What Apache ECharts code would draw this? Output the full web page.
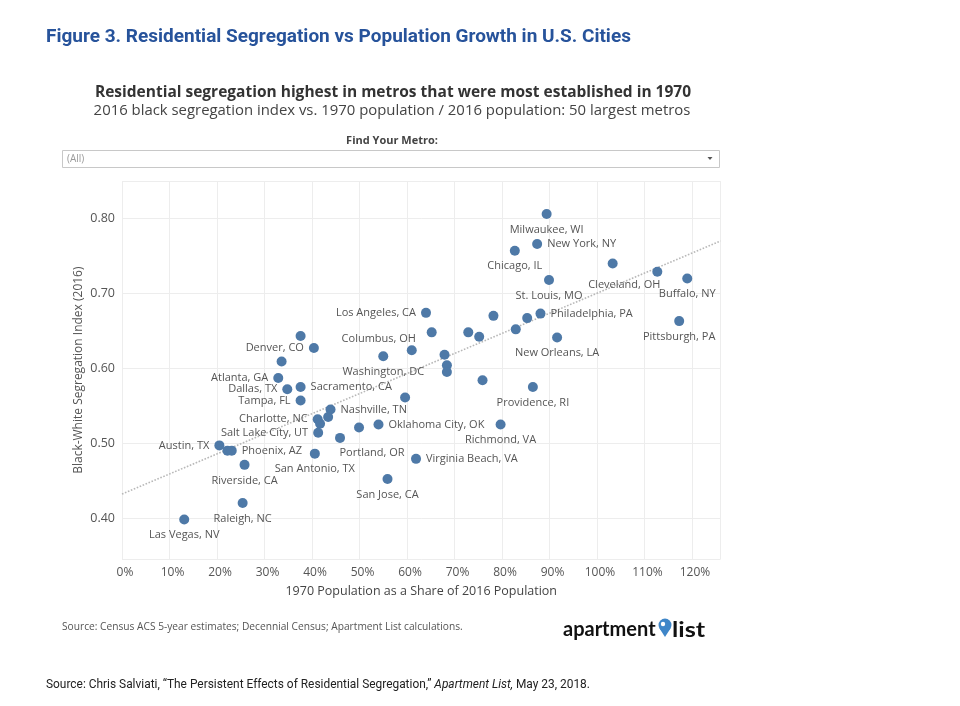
<!DOCTYPE html>
<html>
<head>
<meta charset="utf-8">
<script src="https://cdn.jsdelivr.net/npm/echarts@6/dist/echarts.min.js"></script>
<style>
html,body{margin:0;padding:0;background:#fff;}
#chart{width:960px;height:706px;}
</style>
</head>
<body>
<div id="chart"></div>
<script>
// ---- data ----
const cities = [
  'Milwaukee, WI','New York, NY','Chicago, IL','','Cleveland, OH','Buffalo, NY','St. Louis, MO','Philadelphia, PA','','',
  '','New Orleans, LA','Pittsburgh, PA','','','','','','Los Angeles, CA','',
  'Columbus, OH','Washington, DC','','Providence, RI','','Richmond, VA','Virginia Beach, VA','Oklahoma City, OK','','Denver, CO',
  '','Atlanta, GA','Dallas, TX','Sacramento, CA','Tampa, FL','Nashville, TN','','Charlotte, NC','','Salt Lake City, UT',
  '','Portland, OR','San Antonio, TX','Austin, TX','','Phoenix, AZ','Riverside, CA','Raleigh, NC','Las Vegas, NV','San Jose, CA'
];
const pop1970Share = [
  89.4, 87.4, 82.7, 103.3, 112.7, 119.0, 89.9, 88.1, 85.3, 82.9,
  78.2, 91.6, 117.3, 75.2, 72.9, 67.9, 68.4, 68.4, 64.0, 65.2,
  61.0, 55.0, 75.9, 86.5, 59.6, 79.7, 61.9, 54.0, 37.6, 40.4,
  33.6, 32.9, 34.8, 37.6, 37.6, 43.9, 43.4, 41.2, 41.7, 41.3,
  49.9, 45.9, 40.6, 20.5, 22.2, 23.1, 25.8, 25.4, 13.1, 55.9
];
const segIndex = [
  0.806, 0.766, 0.757, 0.740, 0.729, 0.720, 0.718, 0.673, 0.667, 0.652,
  0.670, 0.641, 0.663, 0.642, 0.648, 0.618, 0.604, 0.595, 0.674, 0.648,
  0.624, 0.616, 0.584, 0.575, 0.561, 0.525, 0.479, 0.525, 0.643, 0.627,
  0.609, 0.587, 0.572, 0.575, 0.557, 0.545, 0.535, 0.532, 0.526, 0.514,
  0.521, 0.507, 0.486, 0.497, 0.490, 0.490, 0.471, 0.420, 0.398, 0.452
];
const trendX = [0, 126];
const trendY = [0.432, 0.770];
const xTicks = [0,10,20,30,40,50,60,70,80,90,100,110,120];
const yTicks = [0.40,0.50,0.60,0.70,0.80];

// ---- label styling (kept apart from data) ----
const labelPlacement = {
  'Milwaukee, WI':'bottom', 'New York, NY':'right', 'Chicago, IL':'bottom',
  'Cleveland, OH':'bottom', 'Buffalo, NY':'bottom', 'St. Louis, MO':'bottom',
  'Philadelphia, PA':'right', 'New Orleans, LA':'bottom', 'Pittsburgh, PA':'bottom',
  'Los Angeles, CA':'left', 'Columbus, OH':'top', 'Washington, DC':'bottom',
  'Providence, RI':'bottom', 'Richmond, VA':'bottom', 'Virginia Beach, VA':'right',
  'Oklahoma City, OK':'right', 'Denver, CO':'left', 'Atlanta, GA':'left',
  'Dallas, TX':'left', 'Sacramento, CA':'right', 'Tampa, FL':'left',
  'Nashville, TN':'right', 'Charlotte, NC':'left', 'Salt Lake City, UT':'left',
  'Portland, OR':'bottom', 'San Antonio, TX':'bottom', 'Austin, TX':'left',
  'Phoenix, AZ':'right', 'Riverside, CA':'bottom', 'Raleigh, NC':'bottom',
  'Las Vegas, NV':'bottom', 'San Jose, CA':'bottom'
};
const labelShift = {
  'Cleveland, OH':[-33, -2], 'Columbus, OH':[-33, 4], 'Portland, OR':[32, -1]
};

const FONT = '"Open Sans", "Noto Sans", sans-serif';
const CONDENSED = 'Roboto, "Liberation Sans", sans-serif';

const points = cities.map((c, i) => {
  const item = { name: c, value: [pop1970Share[i], segIndex[i]] };
  const p = labelPlacement[c];
  item.label = p ? { show: true, position: p } : { show: false };
  return item;
});

const chart = echarts.init(document.getElementById('chart'), null, { renderer: 'canvas' });

const isTick = (arr, v) => arr.some(t => Math.abs(t - v) < 1e-6);

chart.setOption({
  backgroundColor: '#fff',
  animation: false,
  grid: { left: 122, right: 239.5, top: 181.1, bottom: 146.8, containLabel: false },
  xAxis: {
    type: 'value', min: 0, max: 126, interval: 10,
    name: '1970 Population as a Share of 2016 Population',
    nameLocation: 'middle', nameGap: 26,
    nameTextStyle: { fontFamily: FONT, fontSize: 12.5, color: '#444' },
    axisLine: { show: false }, axisTick: { show: false },
    axisLabel: {
      margin: 7, fontFamily: FONT, fontSize: 12, color: '#555',
      padding: [0, 0, 0, 6],
      formatter: v => isTick(xTicks, v) ? v + '%' : ''
    },
    splitLine: { show: true, lineStyle: { color: '#ededed', width: 1 } }
  },
  yAxis: {
    type: 'value', min: 0.345, max: 0.85,
    name: 'Black-White Segregation Index (2016)',
    nameLocation: 'middle', nameGap: 37, nameRotate: 90,
    nameMoveOverlap: false,
    nameTextStyle: { fontFamily: FONT, fontSize: 12, color: '#555' },
    axisLine: { show: false }, axisTick: { show: false },
    axisLabel: {
      margin: 7, fontFamily: FONT, fontSize: 12.5, color: '#555',
      formatter: v => isTick(yTicks, v) ? v.toFixed(2) : ''
    },
    splitLine: { show: true, lineStyle: { color: '#ededed', width: 1 } }
  },
  series: [
    {
      type: 'line', z: 1,
      data: trendX.map((x, i) => [x, trendY[i]]),
      symbol: 'none', silent: true,
      lineStyle: { color: '#b8b8b8', width: 1.6, type: 'dotted' }
    },
    {
      type: 'scatter', z: 3,
      data: points,
      symbolSize: 10,
      itemStyle: { color: '#4e79a7', opacity: 1 },
      label: {
        show: true, formatter: '{b}', distance: 5,
        fontFamily: FONT, fontSize: 11, color: '#555'
      },
      labelLayout: function (params) {
        const s = labelShift[cities[params.dataIndex]];
        return s ? { dx: s[0], dy: s[1], hideOverlap: false } : { hideOverlap: false };
      }
    }
  ],
  graphic: [
    { type: 'text', x: 46, y: 37, style: { text: 'Figure 3. Residential Segregation vs Population Growth in U.S. Cities',
      font: 'bold 19px ' + CONDENSED, fill: '#27539b', textVerticalAlign: 'middle' } },
    { type: 'text', x: 393, y: 93, style: { text: 'Residential segregation highest in metros that were most established in 1970',
      font: 'bold 15.5px ' + FONT, fill: '#333', textAlign: 'center', textVerticalAlign: 'middle' } },
    { type: 'text', x: 392, y: 111, style: { text: '2016 black segregation index vs. 1970 population / 2016 population: 50 largest metros',
      font: '14.9px ' + FONT, fill: '#444', textAlign: 'center', textVerticalAlign: 'middle' } },
    { type: 'text', x: 392, y: 141, style: { text: 'Find Your Metro:',
      font: 'bold 11px ' + FONT, fill: '#444', textAlign: 'center', textVerticalAlign: 'middle' } },
    { type: 'rect', shape: { x: 62.5, y: 150.5, width: 657, height: 17 },
      style: { fill: '#fff', stroke: '#c8c8c8', lineWidth: 1 } },
    { type: 'text', x: 67, y: 159, style: { text: '(All)', font: '10px ' + FONT, fill: '#999', textVerticalAlign: 'middle' } },
    { type: 'polygon', shape: { points: [[707.5, 157], [712.5, 157], [710, 160]] }, style: { fill: '#555' } },
    { type: 'text', x: 62, y: 627, style: { text: 'Source: Census ACS 5-year estimates; Decennial Census; Apartment List calculations.',
      font: '10.2px ' + FONT, fill: '#555', textVerticalAlign: 'middle' } },
    { type: 'text', x: 563, y: 630, style: { text: 'apartment', font: 'bold 20px Lato, Roboto, sans-serif', fill: '#111', textVerticalAlign: 'middle' } },
    { type: 'circle', shape: { cx: 665, cy: 625, r: 6.5 }, style: { fill: '#3f86c8' } },
    { type: 'polygon', shape: { points: [[658.9, 627.5], [671.1, 627.5], [665, 637]] }, style: { fill: '#3f86c8' } },
    { type: 'circle', shape: { cx: 663, cy: 624, r: 2.2 }, style: { fill: '#fff' } },
    { type: 'text', x: 672, y: 630, scaleX: 1.2, style: { text: 'list', font: 'bold 21px Lato, Roboto, sans-serif', fill: '#111', textVerticalAlign: 'middle' } },
    { type: 'text', x: 46, y: 685, scaleX: 0.916, style: {
      text: '{a|Source: Chris Salviati, \u201CThe Persistent Effects of Residential Segregation,\u201D }{b|Apartment List,}{a| May 23, 2018.}',
      textVerticalAlign: 'middle',
      rich: {
        a: { font: '13px ' + CONDENSED, fill: '#222' },
        b: { font: 'italic 13px ' + CONDENSED, fill: '#222' }
      }
    } }
  ]
});
</script>
</body>
</html>
